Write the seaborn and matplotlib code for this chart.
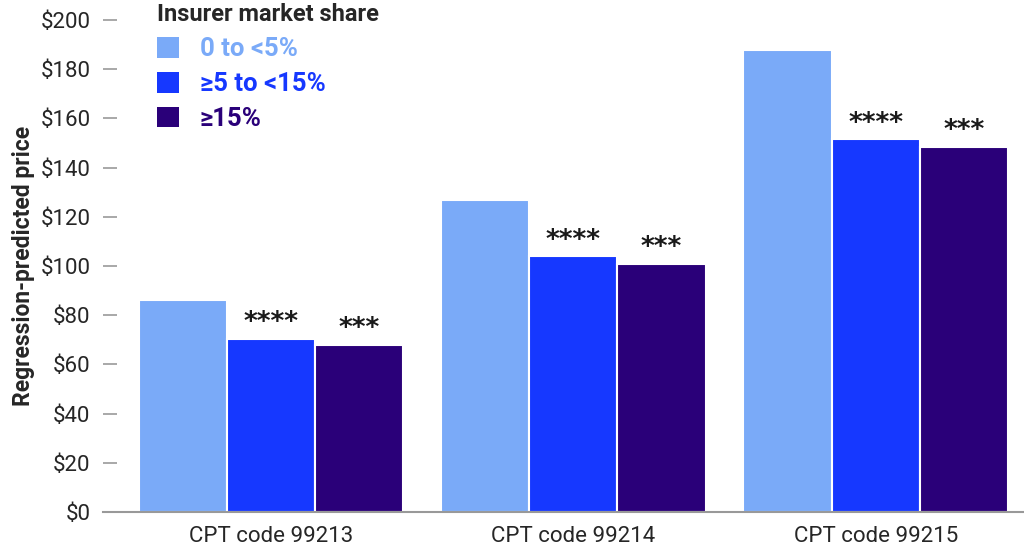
import pandas as pd
import matplotlib.pyplot as plt
import seaborn as sns

codes = ['CPT code 99213', 'CPT code 99214', 'CPT code 99215']
shares = ['0 to <5%', '≥5 to <15%', '≥15%']
price_low = [86, 127, 188]
price_mid = [70.5, 104, 151.5]
price_high = [68, 101, 148.5]
stars_mid = ['****', '****', '****']
stars_high = ['***', '***', '***']
colors = ['#7aaaf8', '#1638ff', '#2a0079']

rows = []
for i, c in enumerate(codes):
    rows.append((c, shares[0], price_low[i]))
    rows.append((c, shares[1], price_mid[i]))
    rows.append((c, shares[2], price_high[i]))
df = pd.DataFrame(rows, columns=['code', 'share', 'price'])

sns.set_style('white')
plt.rcParams['font.family'] = ['Roboto', 'DejaVu Sans']

fig = plt.figure(figsize=(10.24, 5.49), dpi=100)
ax = fig.add_axes([103 / 1024, 37 / 549, 1 - 103 / 1024, (512 - 20) / 549])

sns.barplot(data=df, x='code', y='price', hue='share', palette=colors,
            width=0.875, saturation=1, edgecolor='white', linewidth=1.5, ax=ax)

ax.set_ylim(0, 200)
ax.set_xlim(-0.555, 2.49)
ax.set_yticks(range(0, 201, 20))
ax.set_yticklabels([f'${v}' for v in range(0, 201, 20)], fontsize=16)
ax.tick_params(axis='y', direction='in', length=10, width=1.2, color='#999999', pad=9, left=True)
ax.tick_params(axis='x', length=0, pad=10, labelsize=16)
ax.set_xlabel('')
ax.set_ylabel('Regression-predicted price', fontsize=16.5, fontweight='bold', labelpad=4)
for s in ['top', 'right', 'left']:
    ax.spines[s].set_visible(False)
ax.spines['bottom'].set_color('#999999')
ax.spines['bottom'].set_linewidth(1.5)

# significance stars
bars_mid = ax.containers[1]
bars_high = ax.containers[2]
for bars, stars in [(bars_mid, stars_mid), (bars_high, stars_high)]:
    for b, s in zip(bars, stars):
        ax.annotate(s, (b.get_x() + b.get_width() / 2, b.get_height()),
                    xytext=(0, 11), textcoords='offset points', ha='center', va='center',
                    fontsize=19, fontweight='bold', color='#1a1a1a', family='DejaVu Sans')

handles, labels = ax.get_legend_handles_labels()
leg = ax.legend(handles, labels, title='Insurer market share', loc='upper left',
                bbox_to_anchor=(0.045, 1.06), frameon=False, fontsize=18.5,
                title_fontproperties={'weight': 'bold', 'size': 17},
                labelcolor=colors, alignment='left', handlelength=0.85, handleheight=0.85,
                handletextpad=0.8, labelspacing=0.42, borderpad=0)
for t in leg.get_texts():
    t.set_fontweight('bold')
for h in leg.legend_handles:
    h.set_edgecolor('none')

fig.savefig('out.png', dpi=100)
